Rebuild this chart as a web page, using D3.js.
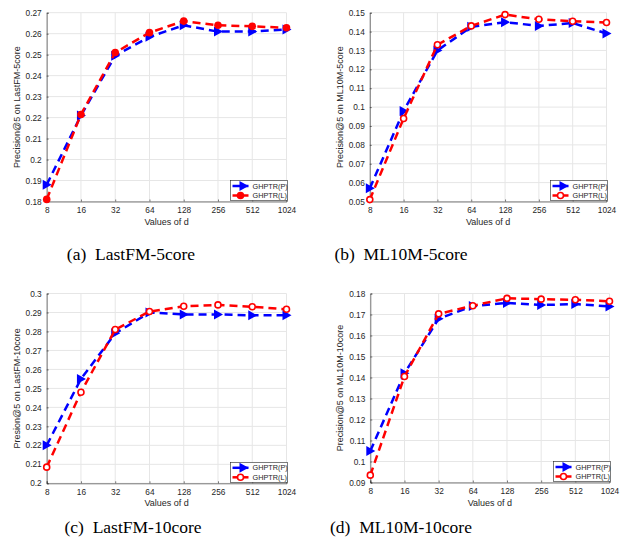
<!DOCTYPE html>
<html>
<head>
<meta charset="utf-8">
<script src="https://cdn.jsdelivr.net/npm/d3@7"></script>
<style>
  body { margin: 0; background: #fff; }
  svg { display: block; }
</style>
</head>
<body>
<script>
'use strict';

// x categories (values of d)
const dims = ["8", "16", "32", "64", "128", "256", "512", "1024"];

// (a) LastFM-5core
const lastfm5P = [0.188, 0.221, 0.2495, 0.2585, 0.264, 0.261, 0.261, 0.262];
const lastfm5L = [0.181, 0.2215, 0.251, 0.2605, 0.266, 0.264, 0.2635, 0.2628];
const lastfm5Ticks = [0.18, 0.19, 0.2, 0.21, 0.22, 0.23, 0.24, 0.25, 0.26, 0.27];

// (b) ML10M-5core
const ml5P = [0.057, 0.098, 0.130, 0.1425, 0.145, 0.143, 0.1445, 0.139];
const ml5L = [0.051, 0.094, 0.133, 0.143, 0.149, 0.1465, 0.1455, 0.1448];
const ml5Ticks = [0.05, 0.06, 0.07, 0.08, 0.09, 0.1, 0.11, 0.12, 0.13, 0.14, 0.15];

// (c) LastFM-10core
const lastfm10P = [0.220, 0.255, 0.279, 0.290, 0.289, 0.289, 0.2885, 0.2885];
const lastfm10L = [0.2085, 0.248, 0.281, 0.2905, 0.2933, 0.294, 0.293, 0.2917];
const lastfm10Ticks = [0.2, 0.21, 0.22, 0.23, 0.24, 0.25, 0.26, 0.27, 0.28, 0.29, 0.3];

// (d) ML10M-10core
const ml10P = [0.105, 0.142, 0.168, 0.174, 0.1755, 0.1745, 0.175, 0.1738];
const ml10L = [0.0935, 0.1405, 0.1703, 0.1742, 0.1777, 0.1773, 0.177, 0.1763];
const ml10Ticks = [0.09, 0.1, 0.11, 0.12, 0.13, 0.14, 0.15, 0.16, 0.17, 0.18];

const seriesNames = ["GHPTR(P)", "GHPTR(L)"];

// panel layout: plot box, labels
const panels = [
  { p: lastfm5P, l: lastfm5L, ticks: lastfm5Ticks, ylabel: "Precision@5 on LastFM-5core",
    caption: "(a)  LastFM-5core", x0: 46.7, x1: 286.5, y0: 12.7, y1: 201.5, yl: 20, cx: 131, cy: 260, filled: true },
  { p: ml5P, l: ml5L, ticks: ml5Ticks, ylabel: "Precision@5 on ML10M-5core",
    caption: "(b)  ML10M-5core", x0: 369.8, x1: 606.5, y0: 12.7, y1: 201.5, yl: 343, cx: 401, cy: 260, filled: false },
  { p: lastfm10P, l: lastfm10L, ticks: lastfm10Ticks, ylabel: "Presion@5 on LastFM-10core",
    caption: "(c)  LastFM-10core", x0: 46.7, x1: 286.5, y0: 293.5, y1: 483.3, yl: 20, cx: 133, cy: 533, filled: false },
  { p: ml10P, l: ml10L, ticks: ml10Ticks, ylabel: "Precision@5 on ML10M-10core",
    caption: "(d)  ML10M-10core", x0: 370.3, x1: 609.5, y0: 293.5, y1: 482.5, yl: 343, cx: 401, cy: 533, filled: false }
];

const svg = d3.select("body").append("svg")
  .attr("width", 626)
  .attr("height", 544);

const tickFont = "'Liberation Sans', Arial, sans-serif";
const capFont = "'Liberation Serif', 'Times New Roman', serif";
const textColor = "#262626";

// right-pointing triangle marker
function triPath(x, y) {
  return `M${x - 4},${y - 5}L${x + 5},${y}L${x - 4},${y + 5}Z`;
}

panels.forEach(drawPanel);

function drawPanel(cfg) {
  let xScale = d3.scalePoint()
    .domain(dims)
    .range([cfg.x0, cfg.x1]);

  let yScale = d3.scaleLinear()
    .domain(d3.extent(cfg.ticks))
    .range([cfg.y1, cfg.y0]);

  let g = svg.append("g");

  // grid lines
  g.selectAll("line.vgrid")
    .data(dims)
    .enter().append("line")
    .attr("x1", d => xScale(d)).attr("x2", d => xScale(d))
    .attr("y1", cfg.y0).attr("y2", cfg.y1)
    .style("stroke", "#e6e6e6").style("stroke-width", 1);

  g.selectAll("line.hgrid")
    .data(cfg.ticks)
    .enter().append("line")
    .attr("x1", cfg.x0).attr("x2", cfg.x1)
    .attr("y1", d => yScale(d)).attr("y2", d => yScale(d))
    .style("stroke", "#e6e6e6").style("stroke-width", 1);

  // axes
  let xAxis = d3.axisBottom(xScale).tickSize(-2).tickPadding(6);
  let gx = g.append("g")
    .attr("transform", `translate(0, ${cfg.y1})`)
    .call(xAxis);

  let yAxis = d3.axisLeft(yScale).tickValues(cfg.ticks).tickSize(-2).tickPadding(5)
    .tickFormat(d => String(+d.toFixed(2)));
  let gy = g.append("g")
    .attr("transform", `translate(${cfg.x0}, 0)`)
    .call(yAxis);

  [gx, gy].forEach(a => {
    a.select(".domain").style("stroke", "#262626").style("stroke-width", 0.6);
    a.selectAll(".tick line").style("stroke", "#262626").style("stroke-width", 0.6);
    a.selectAll("text")
      .style("font-family", tickFont)
      .style("font-size", "8.3px")
      .style("fill", textColor);
  });

  // axis labels
  g.append("text")
    .attr("x", (cfg.x0 + cfg.x1) / 2)
    .attr("y", cfg.y1 + 23)
    .attr("text-anchor", "middle")
    .style("font-family", tickFont)
    .style("font-size", "9px")
    .style("fill", textColor)
    .text("Values of d");

  g.append("text")
    .attr("transform", `translate(${cfg.yl}, ${(cfg.y0 + cfg.y1) / 2}) rotate(-90)`)
    .attr("text-anchor", "middle")
    .style("font-family", tickFont)
    .style("font-size", "9px")
    .style("fill", textColor)
    .text(cfg.ylabel);

  let line = d3.line()
    .x((d, i) => xScale(dims[i]))
    .y(d => yScale(d));

  // GHPTR(P) blue
  g.append("path")
    .datum(cfg.p)
    .attr("d", line)
    .style("fill", "none")
    .style("stroke", "#0000ff")
    .style("stroke-width", 2.5)
    .style("stroke-dasharray", "8, 5");

  g.selectAll("path.tri")
    .data(cfg.p)
    .enter().append("path")
    .attr("d", (d, i) => triPath(xScale(dims[i]), yScale(d)))
    .style("fill", "#0000ff");

  // GHPTR(L) red
  g.append("path")
    .datum(cfg.l)
    .attr("d", line)
    .style("fill", "none")
    .style("stroke", "#ff0000")
    .style("stroke-width", 2.5)
    .style("stroke-dasharray", "8, 5");

  g.selectAll("circle.pt")
    .data(cfg.l)
    .enter().append("circle")
    .attr("cx", (d, i) => xScale(dims[i]))
    .attr("cy", d => yScale(d))
    .attr("r", cfg.filled ? 3.8 : 3)
    .style("fill", cfg.filled ? "#ff0000" : "#ffffff")
    .style("stroke", "#ff0000")
    .style("stroke-width", cfg.filled ? 0 : 1.6);

  // legend
  let lx = cfg.x1 - 56, ly = cfg.y1 - 21;
  let lg = g.append("g").attr("transform", `translate(${lx}, ${ly})`);
  lg.append("rect")
    .attr("width", 57).attr("height", 20)
    .style("fill", "#fff")
    .style("stroke", "#262626")
    .style("stroke-width", 0.6);

  seriesNames.forEach((name, i) => {
    let yy = 5.5 + i * 9.5;
    let col = i === 0 ? "#0000ff" : "#ff0000";
    lg.append("line")
      .attr("x1", 2).attr("x2", 18)
      .attr("y1", yy).attr("y2", yy)
      .style("stroke", col).style("stroke-width", 2.5);
    if (i === 0) {
      lg.append("path").attr("d", triPath(13, yy)).style("fill", col);
    } else {
      lg.append("circle").attr("cx", 10).attr("cy", yy)
        .attr("r", cfg.filled ? 3.8 : 3)
        .style("fill", cfg.filled ? col : "#fff")
        .style("stroke", col).style("stroke-width", cfg.filled ? 0 : 1.6);
    }
    lg.append("text")
      .attr("x", 22).attr("y", yy + 2.5)
      .style("font-family", tickFont)
      .style("font-size", "7.3px")
      .style("fill", textColor)
      .text(name);
  });

  // caption
  svg.append("text")
    .attr("x", cfg.cx)
    .attr("y", cfg.cy)
    .attr("text-anchor", "middle")
    .style("font-family", capFont)
    .style("font-size", "17.5px")
    .style("fill", "#000")
    .style("white-space", "pre")
    .text(cfg.caption);
}
</script>
</body>
</html>
